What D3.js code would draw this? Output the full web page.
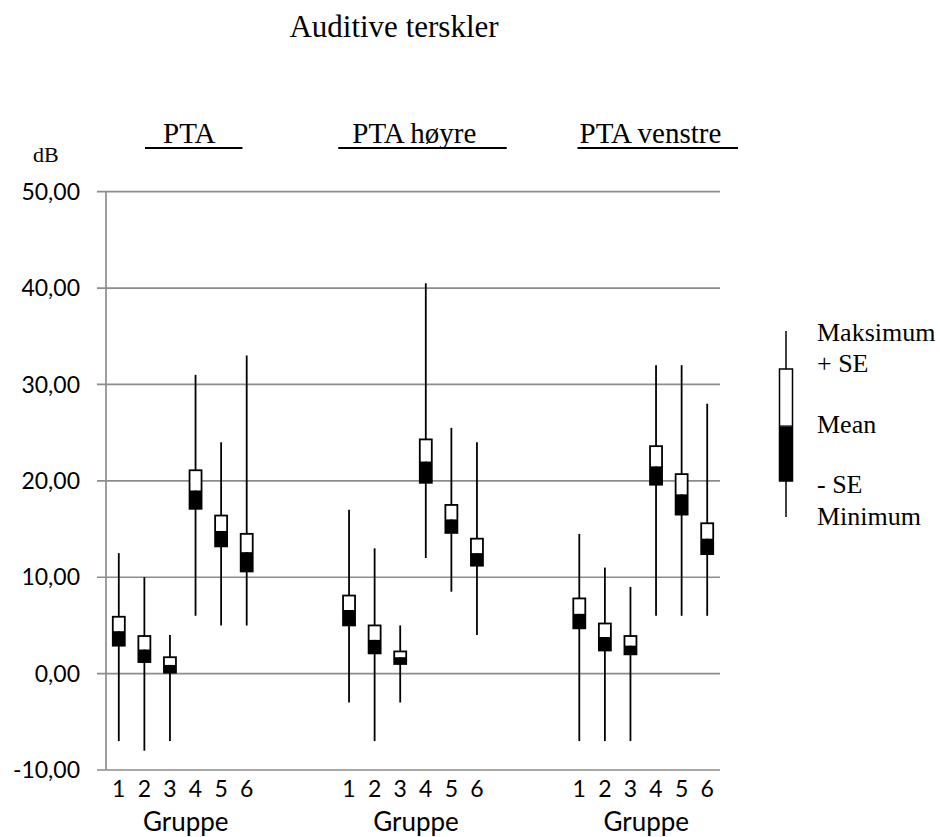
<!DOCTYPE html>
<html>
<head>
<meta charset="utf-8">
<script src="https://cdn.jsdelivr.net/npm/d3@7"></script>
<style>
  body { margin: 0; background: #fff; }
  svg { display: block; }
  .serif { font-family: "Liberation Serif", "Times New Roman", serif; fill: #000; }
  .sans { font-family: Lato, "Open Sans", sans-serif; fill: #000; }
</style>
</head>
<body>
<svg id="chart"></svg>
<script>
"use strict";

// measures (panels) and groups
const measures = ["PTA", "PTA høyre", "PTA venstre"];
const gruppe = ["1", "2", "3", "4", "5", "6"];
const yTicks = [-10, 0, 10, 20, 30, 40, 50];

// values per measure, one entry per gruppe
const maxVals = [
    [12.5, 10, 4, 31, 24, 33],
    [17, 13, 5, 40.5, 25.5, 24],
    [14.5, 11, 9, 32, 32, 28]
];
const plusSE = [
    [5.9, 3.9, 1.7, 21.1, 16.4, 14.5],
    [8.1, 5.0, 2.3, 24.3, 17.5, 14.0],
    [7.8, 5.2, 3.9, 23.6, 20.7, 15.6]
];
const means = [
    [4.4, 2.5, 0.9, 19.0, 14.8, 12.6],
    [6.6, 3.5, 1.7, 22.0, 16.0, 12.5],
    [6.2, 3.8, 2.9, 21.5, 18.6, 14.0]
];
const minusSE = [
    [2.9, 1.2, 0.1, 17.1, 13.2, 10.6],
    [5.0, 2.1, 1.0, 19.8, 14.6, 11.2],
    [4.7, 2.4, 2.0, 19.6, 16.5, 12.4]
];
const minVals = [
    [-7, -8, -7, 6, 5, 5],
    [-3, -7, -3, 12, 8.5, 4],
    [-7, -7, -7, 6, 6, 6]
];

const legendLabels = ["Maksimum", "+ SE", "Mean", "- SE", "Minimum"];

const width = 940, height = 837;
const svg = d3.select("#chart").attr("width", width).attr("height", height);

// category slots: 6 per measure, 3 empty slots between measures
const slots = [];
measures.forEach((m, i) => {
    gruppe.forEach(g => slots.push(m + "|" + g));
    if (i < measures.length - 1) {
        for (let k = 0; k < 3; k++) slots.push("gap" + i + "_" + k);
    }
});

const x = d3.scaleBand().domain(slots).range([106, 720]);
const y = d3.scaleLinear().domain([-10, 50]).range([770, 191.7]);

// gridlines
svg.append("g")
    .selectAll("line").data(yTicks)
    .enter().append("line")
    .attr("x1", 97).attr("x2", 720)
    .attr("y1", d => y(d)).attr("y2", d => y(d))
    .attr("stroke", "#8c8c8c").attr("stroke-width", 1.7);

// y axis line
svg.append("line")
    .attr("x1", 106).attr("x2", 106)
    .attr("y1", y(50)).attr("y2", y(-10))
    .attr("stroke", "#8c8c8c").attr("stroke-width", 1.7);

// y tick labels (comma decimals, plain hyphen for minus)
svg.append("g")
    .selectAll("text").data(yTicks)
    .enter().append("text")
    .attr("class", "sans")
    .attr("x", 80).attr("y", d => y(d))
    .attr("dy", "0.35em")
    .attr("text-anchor", "end")
    .style("font-size", "23px")
    .text(d => d.toFixed(2).replace(".", ","));

// flatten boxes
const boxes = [];
measures.forEach((m, i) => {
    gruppe.forEach((g, j) => {
        boxes.push({
            key: m + "|" + g,
            max: maxVals[i][j], hi: plusSE[i][j], mean: means[i][j],
            lo: minusSE[i][j], min: minVals[i][j]
        });
    });
});

const bw = 12;
const bx = d => x(d.key) + x.bandwidth() / 2;

const gBox = svg.append("g");
// whiskers
gBox.selectAll("line.whisker").data(boxes)
    .enter().append("line")
    .attr("class", "whisker")
    .attr("x1", bx).attr("x2", bx)
    .attr("y1", d => y(d.max)).attr("y2", d => y(d.min))
    .attr("stroke", "#000").attr("stroke-width", 1.8);
// upper (white) part
gBox.selectAll("rect.upper").data(boxes)
    .enter().append("rect")
    .attr("class", "upper")
    .attr("x", d => bx(d) - bw / 2).attr("width", bw)
    .attr("y", d => y(d.hi)).attr("height", d => y(d.mean) - y(d.hi))
    .attr("fill", "#fff");
// lower (black) part
gBox.selectAll("rect.lower").data(boxes)
    .enter().append("rect")
    .attr("class", "lower")
    .attr("x", d => bx(d) - bw / 2).attr("width", bw)
    .attr("y", d => y(d.mean)).attr("height", d => y(d.lo) - y(d.mean))
    .attr("fill", "#000");
// outline
gBox.selectAll("rect.outline").data(boxes)
    .enter().append("rect")
    .attr("class", "outline")
    .attr("x", d => bx(d) - bw / 2).attr("width", bw)
    .attr("y", d => y(d.hi)).attr("height", d => y(d.lo) - y(d.hi))
    .attr("fill", "none").attr("stroke", "#000").attr("stroke-width", 1.8);

// x tick labels
svg.append("g")
    .selectAll("text").data(boxes)
    .enter().append("text")
    .attr("class", "sans")
    .attr("x", bx).attr("y", 797)
    .attr("text-anchor", "middle")
    .style("font-size", "23px")
    .text(d => d.key.split("|")[1]);

// group titles under each panel
measures.forEach(m => {
    const cx = (x(m + "|1") + x(m + "|6") + x.bandwidth()) / 2;
    svg.append("text")
        .attr("class", "sans")
        .attr("x", cx + 3).attr("y", 831)
        .attr("text-anchor", "middle")
        .style("font-size", "26px")
        .text("Gruppe");
});

// measure headings with underline, placed relative to their panel
const topLabels = svg.append("g");
const headOffset = [57, 16, 13];     // text start from first slot
const lineStart = [39, 2, 11];       // underline start from first slot
const lineEnd = [-17, 17, 18];       // underline end from last slot edge
measures.forEach((m, i) => {
    const first = x(m + "|1");
    const last = x(m + "|6") + x.bandwidth();
    topLabels.append("text")
        .attr("class", "serif")
        .attr("x", first + headOffset[i]).attr("y", 143)
        .style("font-size", "29px")
        .text(m);
    topLabels.append("line")
        .attr("x1", first + lineStart[i]).attr("x2", last + lineEnd[i])
        .attr("y1", 148).attr("y2", 148)
        .attr("stroke", "#000").attr("stroke-width", 1.8);
});

// title and unit
svg.append("text")
    .attr("class", "serif")
    .attr("x", 394).attr("y", 37)
    .attr("text-anchor", "middle")
    .style("font-size", "31px")
    .text("Auditive terskler");

svg.append("text")
    .attr("class", "serif")
    .attr("x", 33).attr("y", 162)
    .style("font-size", "22px")
    .text("dB");

// legend
const lg = svg.append("g");
const lx = 786;
lg.append("line")
    .attr("x1", lx).attr("x2", lx).attr("y1", 331).attr("y2", 517)
    .attr("stroke", "#000").attr("stroke-width", 1.5);
lg.append("rect")
    .attr("x", lx - 6.5).attr("width", 13).attr("y", 369).attr("height", 57)
    .attr("fill", "#fff");
lg.append("rect")
    .attr("x", lx - 6.5).attr("width", 13).attr("y", 426).attr("height", 55)
    .attr("fill", "#000");
lg.append("line")
    .attr("x1", lx - 6).attr("x2", lx + 6).attr("y1", 426).attr("y2", 426)
    .attr("stroke", "#2d3a4a").attr("stroke-width", 1.5);
lg.append("rect")
    .attr("x", lx - 6.5).attr("width", 13).attr("y", 369).attr("height", 112)
    .attr("fill", "none").attr("stroke", "#000").attr("stroke-width", 1.5);

const legendY = [341, 372, 433, 493, 525];
lg.selectAll("text").data(legendLabels)
    .enter().append("text")
    .attr("class", "serif")
    .attr("x", 817).attr("y", (d, i) => legendY[i])
    .style("font-size", "26px")
    .text(d => d);
</script>
</body>
</html>
